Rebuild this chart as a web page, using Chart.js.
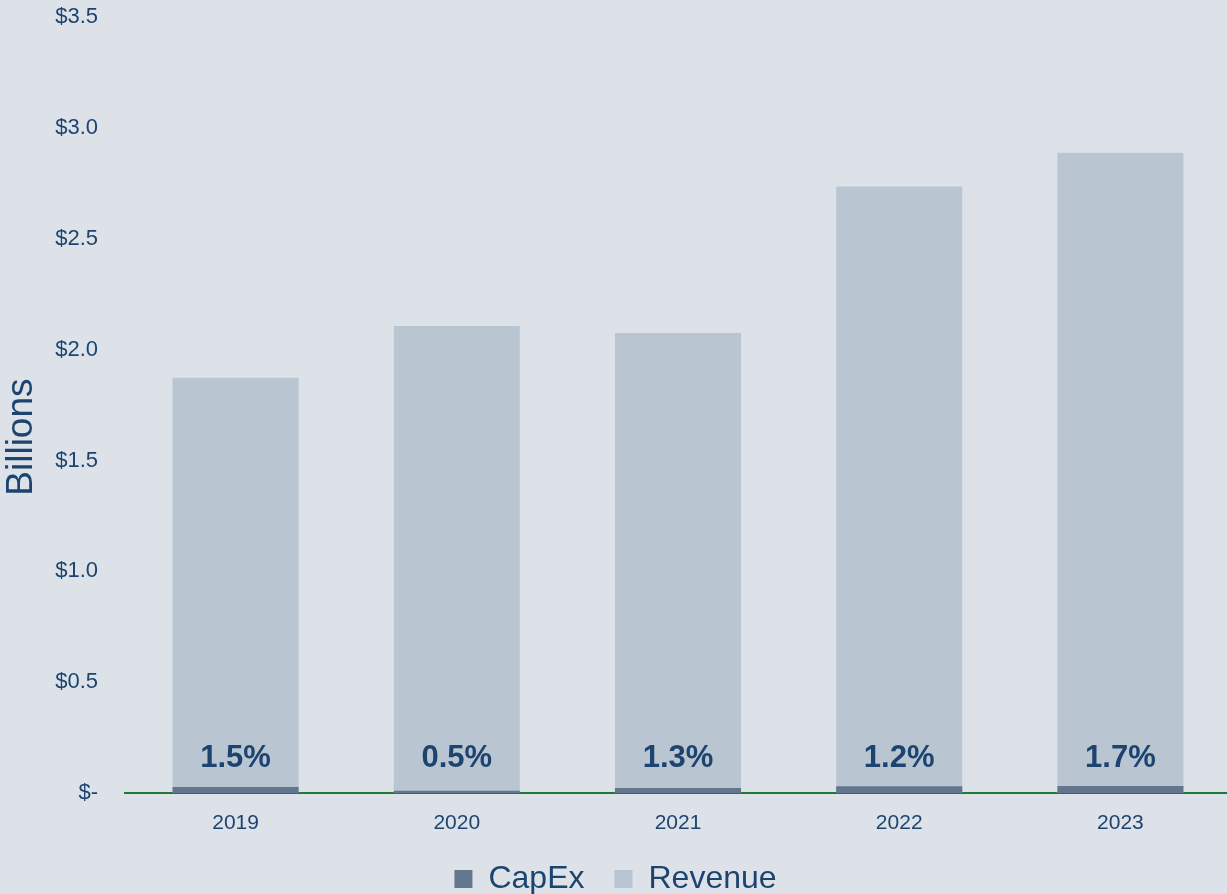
<!DOCTYPE html>
<html>
<head>
<meta charset="utf-8">
<script src="https://cdn.jsdelivr.net/npm/chart.js@4.4.1/dist/chart.umd.min.js"></script>
<style>
  html, body { margin: 0; padding: 0; overflow: hidden; background: #dde2e9; }
  #wrap { position: absolute; left: 0; top: -23px; width: 1231px; height: 928px; }
</style>
</head>
<body>
<div id="wrap"><canvas id="chart"></canvas></div>
<script>
const years = ['2019', '2020', '2021', '2022', '2023']
const revenue = [1.873, 2.107, 2.075, 2.736, 2.889]
const capex = [0.027, 0.010, 0.023, 0.031, 0.032]
const capexShare = ['1.5%', '0.5%', '1.3%', '1.2%', '1.7%']

const ink = '#1d4470'
const fontFamily = 'Arial, "Liberation Sans", Helvetica, sans-serif'

// percentage written just above the bottom of each bar
const shareLabels = {
  id: 'shareLabels',
  afterDatasetsDraw(chart) {
    const ctx = chart.ctx
    const meta = chart.getDatasetMeta(1)
    const base = chart.scales.y.getPixelForValue(0)
    ctx.save()
    ctx.font = 'bold 31px ' + fontFamily
    ctx.fillStyle = ink
    ctx.textAlign = 'center'
    ctx.textBaseline = 'middle'
    meta.data.forEach((bar, i) => {
      ctx.fillText(capexShare[i], bar.x, base - 35)
    })
    ctx.restore()
  }
}

// vertical axis caption
const axisCaption = {
  id: 'axisCaption',
  afterDraw(chart) {
    const ctx = chart.ctx
    const area = chart.chartArea
    ctx.save()
    ctx.translate(22, (area.top + area.bottom) / 2 + 32)
    ctx.rotate(-Math.PI / 2)
    ctx.font = '37px ' + fontFamily
    ctx.fillStyle = ink
    ctx.textAlign = 'center'
    ctx.textBaseline = 'middle'
    ctx.fillText('Billions', 0, 0)
    ctx.restore()
  }
}

new Chart(document.getElementById('chart'), {
  type: 'bar',
  data: {
    labels: years,
    datasets: [
      {
        label: 'CapEx',
        data: capex,
        backgroundColor: '#62778e',
        grouped: false,
        barPercentage: 0.57,
        categoryPercentage: 1
      },
      {
        label: 'Revenue',
        data: revenue,
        backgroundColor: '#b9c5d1',
        grouped: false,
        barPercentage: 0.57,
        categoryPercentage: 1
      }
    ]
  },
  options: {
    responsive: true,
    maintainAspectRatio: false,
    animation: false,
    layout: { padding: 0 },
    plugins: {
      tooltip: { enabled: false },
      legend: {
        position: 'bottom',
        labels: {
          color: ink,
          font: { size: 32, family: fontFamily },
          boxWidth: 18,
          boxHeight: 18,
          padding: 30
        }
      }
    },
    scales: {
      x: {
        grid: { display: false, drawTicks: false },
        border: { display: true, color: '#1e7a34', width: 2 },
        afterFit(scale) { scale.height = 40 },
        ticks: {
          color: ink,
          font: { size: 21, family: fontFamily },
          padding: 18
        }
      },
      y: {
        min: 0,
        max: 3.5,
        grid: { display: false, drawTicks: false },
        border: { display: false },
        afterFit(scale) { scale.width = 125 },
        ticks: {
          stepSize: 0.5,
          color: ink,
          font: { size: 22, family: fontFamily },
          padding: 27,
          callback: v => v === 0 ? '$-' : '$' + v.toFixed(1)
        }
      }
    }
  },
  plugins: [shareLabels, axisCaption]
})
</script>
</body>
</html>
